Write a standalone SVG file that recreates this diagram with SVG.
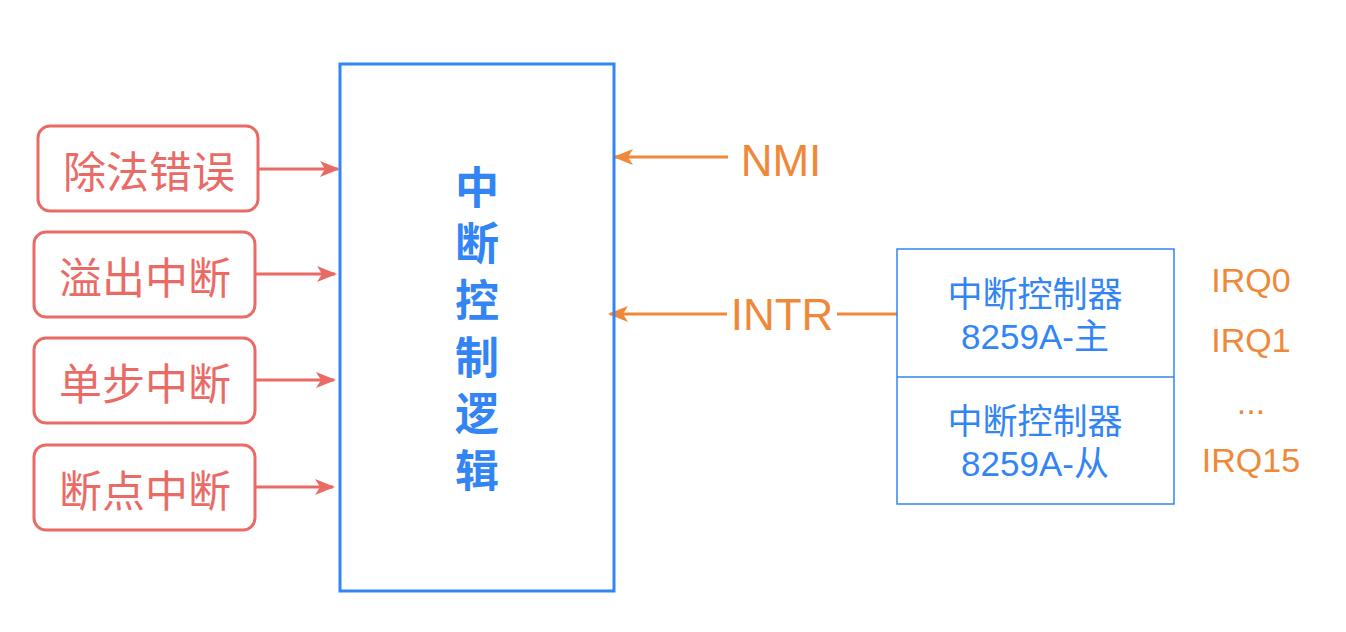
<svg xmlns="http://www.w3.org/2000/svg" width="1346" height="632" viewBox="0 0 1346 632">
<style>
.red{fill:none;stroke:#EA6B66;stroke-width:3}
.rt{fill:#EA6B66;font-family:"Noto Sans CJK SC",sans-serif;font-size:43px;text-anchor:middle;dominant-baseline:central}
.bt{fill:#3385F5;font-family:"Liberation Sans","Noto Sans CJK SC",sans-serif;font-size:35px;text-anchor:middle}
.ot{fill:#F0883A;font-family:"Liberation Sans",sans-serif;text-anchor:middle}
.ro{stroke:#EA6B66;stroke-width:3;fill:none}
.oo{stroke:#F0883A;stroke-width:3;fill:none}
</style>
<defs>
<marker id="ar" viewBox="0 0 20 20" refX="18" refY="10" markerWidth="20" markerHeight="20" markerUnits="userSpaceOnUse" orient="auto">
<path d="M0,2 L20,10 L0,18 L5,10 Z" fill="#EA6B66"/>
</marker>
<marker id="ao" viewBox="0 0 20 20" refX="18" refY="10" markerWidth="20" markerHeight="20" markerUnits="userSpaceOnUse" orient="auto">
<path d="M0,2 L20,10 L0,18 L5,10 Z" fill="#F0883A"/>
</marker>
</defs>
<rect width="1346" height="632" fill="#fff"/>
<g id="connectors">
<line class="ro" x1="259" y1="169" x2="338" y2="169" marker-end="url(#ar)"/>
<line class="ro" x1="255" y1="274" x2="335" y2="274" marker-end="url(#ar)"/>
<line class="ro" x1="255" y1="380" x2="334" y2="380" marker-end="url(#ar)"/>
<line class="ro" x1="255" y1="487" x2="333" y2="487" marker-end="url(#ar)"/>
<line class="oo" x1="728" y1="157" x2="615" y2="157" marker-end="url(#ao)"/>
<line class="oo" x1="727" y1="314" x2="610" y2="314" marker-end="url(#ao)"/>
<line class="oo" x1="837" y1="314" x2="897" y2="314"/>
</g>
<g id="n1"><rect class="red" x="38" y="126" width="220" height="85" rx="12"/><text class="rt" x="149" y="169">除法错误</text></g>
<g id="n2"><rect class="red" x="34" y="232" width="221" height="85" rx="12"/><text class="rt" x="145" y="275">溢出中断</text></g>
<g id="n3"><rect class="red" x="34" y="338" width="221" height="85" rx="12"/><text class="rt" x="145" y="381">单步中断</text></g>
<g id="n4"><rect class="red" x="34" y="445" width="221" height="85" rx="12"/><text class="rt" x="145" y="488">断点中断</text></g>
<g id="main">
<rect x="340" y="64" width="274" height="527" fill="none" stroke="#3385F5" stroke-width="3"/>
<text x="477" y="165" fill="#3385F5" font-family="'Noto Sans CJK SC',sans-serif" font-size="44" font-weight="bold" writing-mode="vertical-rl" style="writing-mode:vertical-rl" letter-spacing="12.6">中断控制逻辑</text>
</g>
<g id="nmi"><text class="ot" x="781" y="176" font-size="44">NMI</text></g>
<g id="intr"><text class="ot" x="782" y="330" font-size="44">INTR</text></g>
<g id="pic">
<rect x="897" y="249" width="277" height="255" fill="none" stroke="#3385F5" stroke-width="1.5"/>
<line x1="897" y1="377" x2="1174" y2="377" stroke="#3385F5" stroke-width="1.5"/>
<text class="bt" x="1035" y="307">中断控制器</text>
<text class="bt" x="1035" y="349">8259A-主</text>
<text class="bt" x="1035" y="434">中断控制器</text>
<text class="bt" x="1035" y="476">8259A-从</text>
</g>
<g id="irq" font-size="34">
<text class="ot" x="1251" y="292">IRQ0</text>
<text class="ot" x="1251" y="352">IRQ1</text>
<text class="ot" x="1251" y="414">...</text>
<text class="ot" x="1251" y="472">IRQ15</text>
</g>
</svg>
